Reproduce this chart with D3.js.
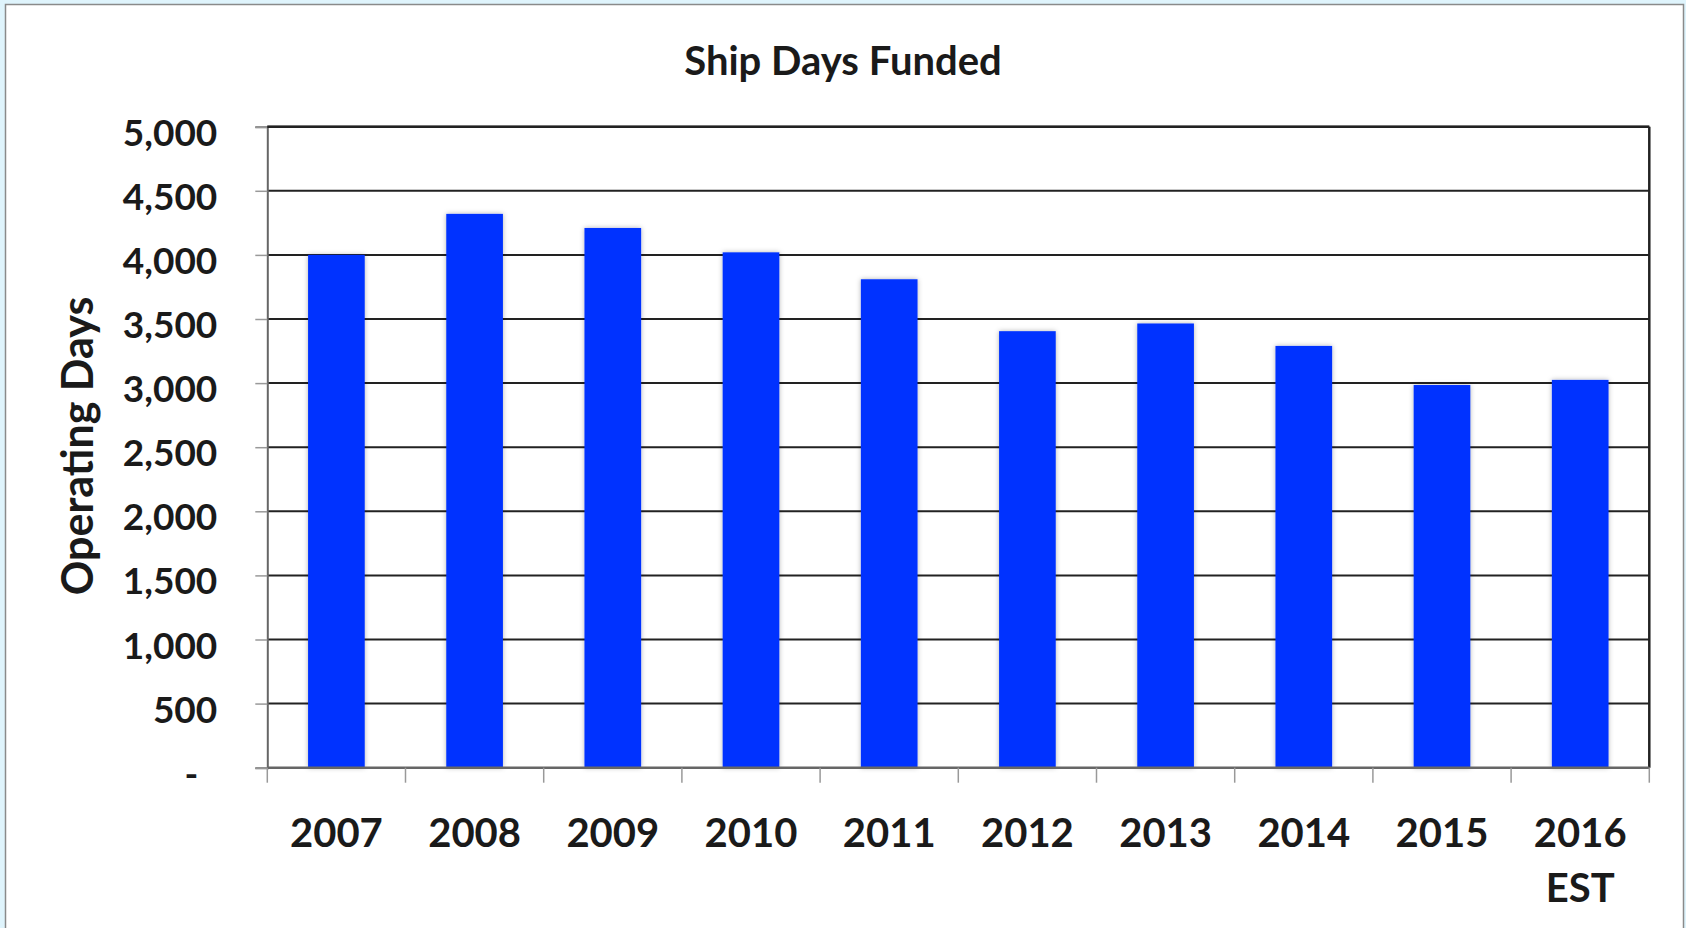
<!DOCTYPE html>
<html>
<head>
<meta charset="utf-8">
<script src="https://cdn.jsdelivr.net/npm/d3@7"></script>
<style>
  html, body { margin: 0; padding: 0; background: #dff4fc; }
  svg { display: block; font-family: Lato, 'Open Sans', sans-serif; }
</style>
</head>
<body>
<div id="chart"></div>
<script>
const years = ['2007', '2008', '2009', '2010', '2011', '2012', '2013', '2014', '2015', '2016 EST']
const shipDays = [4000, 4320, 4210, 4020, 3810, 3405, 3465, 3290, 2985, 3025]
const yTicks = [0, 500, 1000, 1500, 2000, 2500, 3000, 3500, 4000, 4500, 5000]

const width = 1686
const height = 928
const margin = { top: 126.7, right: 36.7, bottom: 160.3, left: 267.3 }
const plotW = width - margin.left - margin.right
const plotH = height - margin.top - margin.bottom

const data = years.map((year, i) => ({ year, value: shipDays[i] }))

const svg = d3.select('#chart')
    .append('svg')
    .attr('width', width)
    .attr('height', height)

// white panel on light blue page
svg.append('rect')
    .attr('x', 5.5)
    .attr('y', 4.5)
    .attr('width', 1678)
    .attr('height', 940)
    .style('fill', '#fff')
    .style('stroke', '#8a8a8a')
    .style('stroke-width', 1.5)

const defs = svg.append('defs')
const shadow = defs.append('filter')
    .attr('id', 'barShadow')
    .attr('x', '-20%').attr('y', '-5%')
    .attr('width', '140%').attr('height', '110%')
shadow.append('feDropShadow')
    .attr('dx', 0).attr('dy', 0)
    .attr('stdDeviation', 2.5)
    .attr('flood-color', '#000')
    .attr('flood-opacity', 0.3)

const g = svg.append('g')
    .attr('transform', `translate(${margin.left},${margin.top})`)

const x = d3.scaleBand()
    .domain(years)
    .range([0, plotW])
    .paddingInner(0.59)
    .paddingOuter(0.295)

const y = d3.scaleLinear()
    .domain([0, 5000])
    .range([plotH, 0])

// gridlines
g.selectAll('.grid')
    .data(yTicks.filter(d => d > 0))
    .enter().append('line')
    .attr('class', 'grid')
    .attr('x1', 0)
    .attr('x2', plotW)
    .attr('y1', d => y(d))
    .attr('y2', d => y(d))
    .style('stroke', '#222')
    .style('stroke-width', 2)

// right border
g.append('line')
    .attr('x1', plotW).attr('x2', plotW)
    .attr('y1', 0).attr('y2', plotH)
    .style('stroke', '#222')
    .style('stroke-width', 2.5)

// bars
g.selectAll('.bar')
    .data(data)
    .enter().append('rect')
    .attr('class', 'bar')
    .attr('x', d => x(d.year))
    .attr('y', d => y(d.value))
    .attr('width', x.bandwidth())
    .attr('height', d => plotH - y(d.value))
    .attr('filter', 'url(#barShadow)')
    .style('fill', '#0433ff')

// y axis
const yAxis = g.append('g')
    .attr('class', 'y-axis')
    .call(d3.axisLeft(y)
        .tickValues(yTicks)
        .tickSize(12)
        .tickPadding(38)
        .tickFormat(d => d === 0 ? '-' : d3.format(',')(d)))
    .attr('font-family', null)
    .attr('font-size', null)
yAxis.select('.domain')
    .style('stroke', '#666')
    .style('stroke-width', 2)
yAxis.selectAll('.tick line')
    .style('stroke', '#999')
    .style('stroke-width', 1.5)
yAxis.selectAll('.tick text')
    .attr('dy', '0.5em')
    .attr('dx', d => d === 0 ? -19 : 0)
    .style('font-family', 'Lato')
    .style('font-size', '37px')
    .style('font-weight', 700)
    .style('fill', '#1a1a1a')

// x axis with ticks between categories
const xAxis = g.append('g')
    .attr('class', 'x-axis')
    .attr('transform', `translate(0,${plotH})`)
xAxis.append('line')
    .attr('x1', 0).attr('x2', plotW)
    .style('stroke', '#666')
    .style('stroke-width', 2.5)
const step = x.step()
xAxis.selectAll('.xtick')
    .data(d3.range(years.length + 1))
    .enter().append('line')
    .attr('class', 'xtick')
    .attr('x1', i => i * step)
    .attr('x2', i => i * step)
    .attr('y1', 0)
    .attr('y2', 15)
    .style('stroke', '#999')
    .style('stroke-width', 1.5)

const xLabels = xAxis.selectAll('.xlabel')
    .data(years)
    .enter().append('text')
    .attr('class', 'xlabel')
    .attr('transform', d => `translate(${x(d) + x.bandwidth() / 2},79)`)
    .attr('text-anchor', 'middle')
    .style('font-size', '40px')
    .style('font-weight', 700)
    .style('fill', '#1a1a1a')
xLabels.selectAll('tspan')
    .data(d => d.split(' '))
    .enter().append('tspan')
    .attr('x', 0)
    .attr('y', (d, i) => i * 55)
    .text(d => d)

// top border
g.append('line')
    .attr('x1', 0).attr('x2', plotW)
    .attr('y1', 0).attr('y2', 0)
    .style('stroke', '#222')
    .style('stroke-width', 2.5)

// title
svg.append('text')
    .attr('x', 843)
    .attr('y', 75)
    .attr('text-anchor', 'middle')
    .style('font-size', '40px')
    .style('font-weight', 700)
    .style('fill', '#1a1a1a')
    .text('Ship Days Funded')

// y axis label
svg.append('text')
    .attr('transform', `translate(93,446) rotate(-90)`)
    .attr('text-anchor', 'middle')
    .style('font-size', '43px')
    .style('font-weight', 700)
    .style('fill', '#1a1a1a')
    .text('Operating Days')
</script>
</body>
</html>
